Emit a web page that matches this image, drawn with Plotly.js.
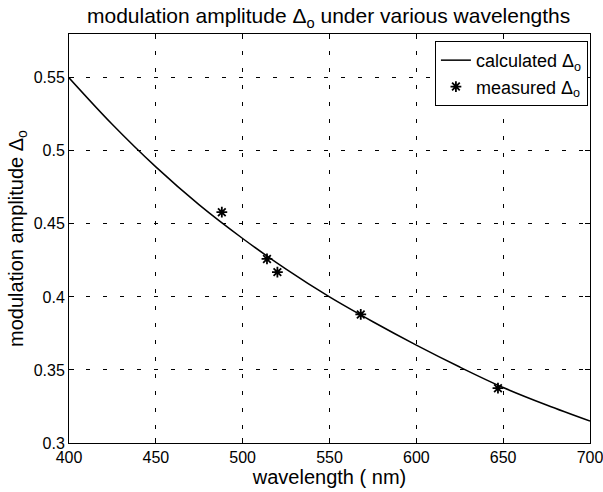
<!DOCTYPE html>
<html>
<head>
<meta charset="utf-8">
<script src="https://cdn.plot.ly/plotly-3.0.1.min.js"></script>
<style>html,body{margin:0;padding:0;background:#fff;}#chart{width:603px;height:492px;}</style>
</head>
<body>
<div id="chart"></div>
<script>
// calculated curve
const calcWavelength = [400, 425, 450, 475, 500, 525, 550, 575, 600, 625, 650, 675, 700];
const calcAmplitude  = [0.550, 0.518, 0.489, 0.463, 0.440, 0.419, 0.400, 0.383, 0.367, 0.352, 0.338, 0.326, 0.315];
// measured points
const measWavelength = [488, 514, 520, 568, 647];
const measAmplitude  = [0.458, 0.426, 0.417, 0.388, 0.3375];
const xTicks = [400, 450, 500, 550, 600, 650, 700];
const yTicks = [0.3, 0.35, 0.4, 0.45, 0.5, 0.55];
const yTickText = ['0.3', '0.35', '0.4', '0.45', '0.5', '0.55'];

const font = 'Liberation Sans, Arial, Helvetica, sans-serif';
const traces = [
  {x: calcWavelength, y: calcAmplitude, mode: 'lines', name: 'calculated Δ<sub>o</sub>',
   line: {color: '#000', width: 1.5, shape: 'spline'}},
  {x: measWavelength, y: measAmplitude, mode: 'markers', name: 'measured Δ<sub>o</sub>',
   marker: {symbol: 'asterisk-open', size: 9, color: '#000', line: {color: '#000', width: 1.8}}}
];
const axisCommon = {
  showline: true, linecolor: '#000', linewidth: 1, mirror: 'ticks',
  ticks: 'inside', ticklen: 5, tickcolor: '#000', tickwidth: 1,
  showgrid: true, gridcolor: '#000', gridwidth: 1, griddash: '4px,13px',
  zeroline: false, tickfont: {family: font, size: 16, color: '#000'},
  ticklabeloverflow: 'allow'
};
const layout = {
  width: 603, height: 492,
  margin: {l: 69, r: 13, t: 34, b: 49},
  paper_bgcolor: '#fff', plot_bgcolor: '#fff',
  font: {family: font, color: '#000'},
  title: {text: 'modulation amplitude Δ<sub>o</sub> under various wavelengths',
          font: {family: font, size: 21, color: '#000'}, x: 0.545, xanchor: 'center', y: 0.968, yanchor: 'middle'},
  xaxis: Object.assign({}, axisCommon, {range: [400, 700], tickvals: xTicks,
          title: {text: 'wavelength ( nm)', font: {family: font, size: 20, color: '#000'}, standoff: 2}}),
  yaxis: Object.assign({}, axisCommon, {range: [0.3, 0.58], tickvals: yTicks, ticktext: yTickText,
          title: {text: 'modulation amplitude Δ<sub>o</sub>', font: {family: font, size: 20, color: '#000'}, standoff: 4}}),
  showlegend: true,
  legend: {x: 0.996, y: 0.983, xanchor: 'right', yanchor: 'top', bgcolor: '#fff',
           bordercolor: '#000', borderwidth: 1, font: {family: font, size: 18, color: '#000'},
           tracegroupgap: 0, itemwidth: 30}
};
Plotly.newPlot('chart', traces, layout, {displayModeBar: false, staticPlot: true});
</script>
</body>
</html>
